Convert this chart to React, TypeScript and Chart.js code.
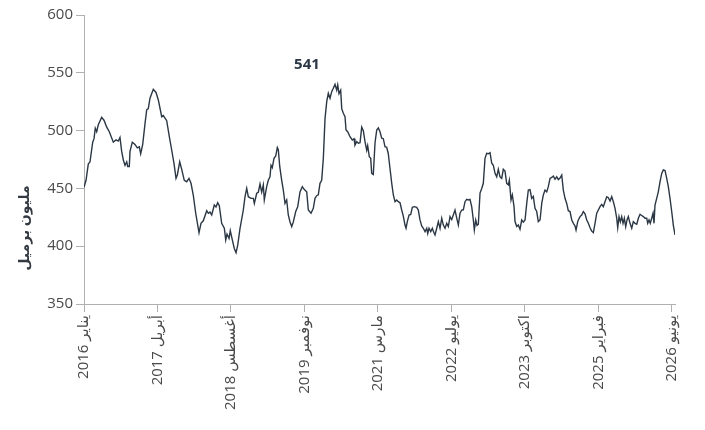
import { useEffect, useRef } from "react";
import { Chart, registerables } from "chart.js";

Chart.register(...registerables);

// Month offsets from January 2016
const months = [
  0, 0.43, 0.91, 1.28, 1.85, 2.13, 2.4, 2.7, 3.04, 3.76, 4.25, 4.83, 5.38, 6.23, 6.8, 7.29, 7.65, 8.01, 8.36, 8.72,
  9.08, 9.29, 9.63, 9.78, 10.27, 10.84, 11.33, 11.76, 12.05, 12.48, 12.97, 13.33, 13.67, 14.03, 14.73, 15.31, 15.8,
  16.52, 16.86, 17.58, 18.13, 18.65, 19.13, 19.56, 19.84, 20.35, 20.77, 21.32, 21.83, 22.32, 22.75, 23.24, 23.75,
  24.45, 24.87, 25.36, 26.09, 26.43, 26.79, 27.15, 27.7, 28.06, 28.42, 28.76, 29.27, 29.83, 30.13, 30.4, 30.83,
  31.1, 31.53, 31.95, 32.32, 32.68, 33.17, 33.87, 34.23, 34.59, 34.93, 35.5, 35.99, 36.21, 36.72, 37.06, 37.42,
  37.78, 38.12, 38.33, 38.84, 39.18, 39.54, 39.76, 40.03, 40.39, 40.76, 41.1, 41.31, 41.61, 42.03, 42.37, 42.73,
  43.09, 43.43, 43.8, 44.16, 44.5, 45.01, 45.43, 45.92, 46.41, 46.84, 47.35, 47.69, 48.26, 48.75, 49.11, 49.47,
  49.81, 50.17, 50.53, 50.88, 51.24, 51.6, 51.94, 52.3, 52.66, 53.0, 53.36, 53.72, 53.94, 54.21, 54.57, 54.79,
  55.13, 55.49, 55.7, 56.06, 56.55, 57.04, 57.4, 57.61, 57.98, 58.32, 58.68, 59.04, 59.38, 59.74, 60.1, 60.31,
  60.65, 60.95, 61.16, 61.5, 61.87, 62.23, 62.57, 62.93, 63.29, 63.63, 63.99, 64.35, 64.69, 65.06, 65.42, 65.76,
  66.12, 66.48, 66.82, 67.18, 67.54, 67.88, 68.24, 68.46, 68.73, 69.1, 69.46, 69.8, 70.22, 70.73, 71.07, 71.43,
  71.79, 72.14, 72.5, 72.86, 73.07, 73.35, 73.71, 74.05, 74.35, 74.62, 74.99, 75.33, 75.69, 76.05, 76.39, 76.75,
  77.11, 77.45, 77.81, 78.17, 78.51, 78.87, 79.24, 79.58, 79.94, 80.3, 80.64, 81.0, 81.36, 81.7, 82.06, 82.43,
  82.77, 82.98, 83.28, 83.55, 83.83, 84.19, 84.55, 84.89, 85.25, 85.61, 85.95, 86.32, 86.68, 87.02, 87.38, 87.74,
  88.08, 88.44, 88.8, 89.14, 89.5, 89.86, 90.21, 90.42, 90.78, 91.06, 91.42, 91.63, 91.99, 92.33, 92.69, 93.05,
  93.4, 93.76, 94.12, 94.46, 94.82, 95.18, 95.52, 95.88, 96.24, 96.58, 96.95, 97.31, 97.65, 98.01, 98.37, 98.71,
  99.07, 99.43, 99.77, 100.13, 100.5, 100.84, 101.2, 101.56, 101.9, 102.26, 102.62, 102.96, 103.32, 103.69,
  104.03, 104.39, 104.6, 104.96, 105.09, 105.45, 105.81, 106.15, 106.51, 106.88, 107.22, 107.58, 107.94, 108.28,
  108.64, 109.0, 109.34, 109.7, 110.06, 110.4, 110.76, 111.13, 111.47, 111.83, 112.19, 112.53, 112.89, 113.25,
  113.46, 113.74, 114.02, 114.31, 114.59, 114.87, 115.16, 115.44, 115.72, 116.08, 116.44, 116.78, 117.14, 117.51,
  117.85, 118.21, 118.57, 118.91, 119.27, 119.63, 119.84, 120.12, 120.39, 120.69, 120.97, 121.18, 121.39, 121.75,
  122.09, 122.46, 122.82, 123.16, 123.52, 123.88, 124.22, 124.58, 124.94, 125.28, 125.64,
];

// Stocks, million barrels
const stocks = [
  451, 457, 471, 473, 490, 493, 502, 499, 505, 511.5, 509, 503, 499, 490, 492, 491, 494, 482, 474.6, 470,
  473, 469, 469, 482, 490, 488, 485, 486, 480, 488, 506, 518, 519, 528, 535.7, 533, 526.5,
  512, 513, 508.6, 495, 483, 471.7, 458.7, 461.6, 473, 466.5, 457, 455.8, 458.7, 454.4, 444, 428.5,
  411.7, 419.8, 422, 430.7, 428.5, 429.5, 427, 435.6, 434, 437.7, 435, 419.8, 415.5, 405.4, 410.5, 406.8,
  413.4, 405.4, 398, 394.4, 401, 415.5, 431.3, 442.8, 450, 442.8, 441.4, 441.4, 437, 445.8, 446.7, 453.8,
  446.7, 453, 440, 451.5, 457, 460, 470, 468, 476, 478, 485.3, 483.5, 469, 457, 448.6, 437,
  440, 427, 421, 417, 421, 430, 434, 447, 451.5, 449, 447, 431.3, 428.5, 432.8, 441.4, 443.7,
  444.4, 454.4, 457, 476, 510.6, 525, 532.3, 528, 533.7, 536.6, 540, 535, 539.5, 532, 535, 519,
  515, 512, 500.5, 499, 494.7, 491.9, 493, 487.5, 490.4, 489, 489.5, 503, 500, 490.4, 483, 487,
  477.4, 476, 463, 462, 489.5, 500.5, 502.3, 499, 493.4, 493, 486, 485.6, 480, 467, 454.4, 444.3,
  438.5, 440, 438.5, 437.6, 431.3, 426, 418.3, 415.5, 421.3, 427, 427.5, 433.6, 434.2, 433.6, 431.3, 422.7,
  417.5, 415.5, 412.6, 415.5, 411, 415.5, 412.6, 415.5, 412, 409.7, 415.5, 421.3, 415.5, 424.2, 418.3, 415.5,
  419.8, 417, 425.6, 423, 427, 431.3, 424.2, 418.3, 428.5, 431.3, 431.5, 438.5, 440.5, 440, 440.5, 434,
  422.7, 414, 422.7, 418, 419, 446, 450, 454.4, 476, 480.4, 480, 481, 471.7, 470, 463, 460,
  466.5, 460, 458.7, 466.5, 465, 454.4, 453, 457, 440, 444.3, 434.2, 421.3, 417, 418.3, 414.6, 422.7,
  420.8, 422.7, 437, 448.6, 449, 441.4, 443, 432.8, 430, 421.3, 422.7, 437, 444.3, 448.6, 447, 451.5,
  458.7, 459.5, 460.7, 458, 460, 457.6, 459, 461.6, 448.6, 441.4, 437, 430.7, 430, 422.7, 419.8,
  417.5, 414, 421.3, 422.7, 425.6, 427, 430, 428, 422.7, 419.8, 416, 413, 411.7, 419.8,
  428.5, 431.3, 434.2, 436.2, 434.2, 438.5, 442.8, 442, 439, 442.8, 438.5, 432.8, 424.2,
  416, 425.6, 421, 425.6, 419.8, 424.2, 416.8, 422.7, 425.6, 419.8, 415.5, 421.3, 419.8, 419,
  424.2, 427.6, 426.6, 425.6, 424.2, 424.2, 419.8, 422.7, 419.8, 424.2, 428.5, 419.8, 435.6, 441.4,
  447, 455.8, 463, 466, 465.5, 458.7, 451.5, 441.4, 430, 418.3, 409.7,
];

const tickMonths = [0, 15.625, 31.25, 46.875, 62.5, 78.125, 93.75, 109.375, 125];
const tickLabels = [
  "يناير 2016",
  "أبريل 2017",
  "أغسطس 2018",
  "نوفمبر 2019",
  "مارس 2021",
  "يوليو 2022",
  "اكتوبر 2023",
  "فبراير 2025",
  "يونيو 2026",
];
const yMin = 350;
const yMax = 600;
const yStep = 50;
const yTitle = "مليون برميل";
const peakText = "541";
const peakTextMonth = 47.4;
const peakTextValue = 557;

const FONT = "'Open Sans', 'Noto Sans', 'DejaVu Sans', sans-serif";
const TEXT = "#4a4a4a";
const LINE = "#2b3744";
const AXIS = "#b0b0b0";

export default function App() {
  const ref = useRef<HTMLCanvasElement | null>(null);

  useEffect(() => {
    document.body.style.margin = "0";
    const canvas = ref.current;
    if (!canvas) return;

    const overlay = {
      id: "overlay",
      afterDraw(chart: any) {
        const { ctx, chartArea, scales } = chart;
        ctx.save();
        ctx.direction = "rtl";
        // y title
        ctx.font = `bold 14px ${FONT}`;
        ctx.fillStyle = "#333a42";
        ctx.textAlign = "center";
        ctx.textBaseline = "middle";
        ctx.translate(25, chartArea.bottom - 76);
        ctx.rotate(-Math.PI / 2);
        ctx.fillText(yTitle, 0, 0);
        ctx.restore();
        // peak label
        ctx.save();
        ctx.font = `bold 15px ${FONT}`;
        ctx.fillStyle = "#2b3744";
        ctx.textAlign = "center";
        ctx.textBaseline = "middle";
        ctx.fillText(
          peakText,
          scales.x.getPixelForValue(peakTextMonth),
          scales.y.getPixelForValue(peakTextValue)
        );
        ctx.restore();
      },
    };

    const chart = new Chart(canvas, {
      type: "line",
      data: {
        datasets: [
          {
            data: months.map((m, i) => ({ x: m, y: stocks[i] })),
            borderColor: LINE,
            borderWidth: 1.4,
            pointRadius: 0,
            tension: 0,
            fill: false,
          },
        ],
      },
      options: {
        responsive: false,
        animation: false,
        devicePixelRatio: 1,
        layout: { padding: { top: 15, right: 30, left: 0, bottom: 0 } },
        plugins: { legend: { display: false }, tooltip: { enabled: false } },
        scales: {
          x: {
            type: "linear",
            min: 0,
            max: months[months.length - 1],
            afterBuildTicks: (s: any) => {
              s.ticks = tickMonths.map((v) => ({ value: v }));
            },
            afterFit: (s: any) => {
              s.height = 126;
            },
            ticks: {
              autoSkip: false,
              maxRotation: 90,
              minRotation: 90,
              padding: 3,
              color: TEXT,
              font: { family: FONT, size: 15 },
              callback: (_v: any, i: number) => tickLabels[i],
            },
            grid: { drawOnChartArea: false, drawTicks: true, tickLength: 8, color: AXIS },
            border: { color: AXIS, width: 1 },
          },
          y: {
            min: yMin,
            max: yMax,
            afterFit: (s: any) => {
              s.width = 84;
            },
            ticks: {
              stepSize: yStep,
              padding: 3,
              color: TEXT,
              font: { family: FONT, size: 15 },
            },
            grid: { drawOnChartArea: false, drawTicks: true, tickLength: 8, color: AXIS },
            border: { color: AXIS, width: 1 },
          },
        },
      },
      plugins: [overlay],
    });
    return () => chart.destroy();
  }, []);

  return (
    <canvas ref={ref} width={705} height={430} dir="rtl" style={{ display: "block" }} />
  );
}
